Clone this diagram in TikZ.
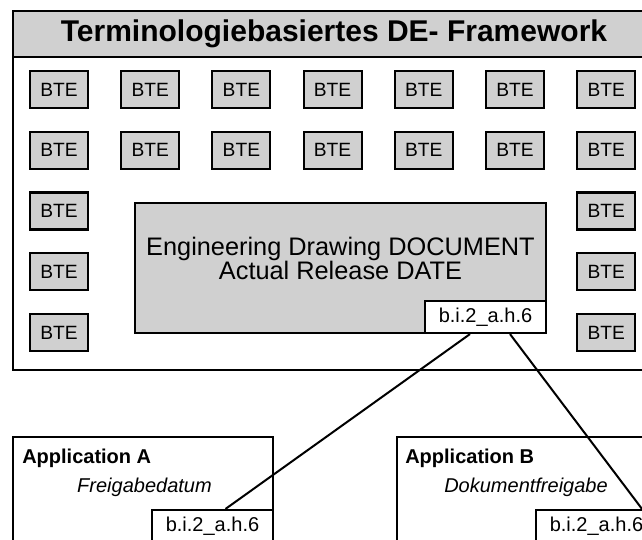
\documentclass[tikz,border=0pt]{standalone}
\usepackage{fontspec}
\setmainfont{Liberation Sans}
\usetikzlibrary{calc}

\definecolor{boxgray}{HTML}{D0D0D0}

\tikzset{
  box/.style={draw, rectangle, line width=1.6pt, inner sep=0pt},
  btebox/.style={box, fill=boxgray, minimum width=43.5pt, minimum height=27.75pt,
    font=\fontsize{14.4}{16}\selectfont},
  portbox/.style={box, fill=white, minimum width=90.75pt, minimum height=24pt,
    font=\fontsize{15}{17}\selectfont},
  appname/.style={anchor=base west, inner sep=0pt, font=\bfseries\fontsize{15}{17}\selectfont},
  appattr/.style={anchor=base, inner sep=0pt, font=\itshape\fontsize{15}{17}\selectfont},
  link/.style={line width=1.5pt},
}

\begin{document}
\begin{tikzpicture}[x=0.75pt,y=0.75pt]
    % Page size (the right edge of the drawing is cut off)
    \useasboundingbox (0,0) rectangle (642,539);
    \clip (0,0) rectangle (642,539);

    % Grid of the BTE boxes
    \def\dx{91.2}
    \def\dy{60.75}

    % ---- Framework (top) ----
    \node[box, minimum width=481.5pt, minimum height=269.25pt] (frame) at (334,348.5) {};
    \node[box, fill=boxgray, minimum width=481.5pt, minimum height=34.5pt,
      font=\bfseries\fontsize{22.5}{25}\selectfont] (title) at (334,505)
      {Terminologiebasiertes DE- Framework};

    % BTE boxes: two full rows, then the left and right columns
    \foreach \i in {0,...,6}
      \foreach \j in {0,1}
        \node[btebox] (bte-\i-\j) at ({59+\dx*\i},{449.5-\dy*\j}) {BTE};
    \foreach \i in {0,6}
      \foreach \j in {2,3,4}
        \node[btebox] (bte-\i-\j) at ({59+\dx*\i},{449.5-\dy*\j}) {BTE};

    % Document in the middle
    \node[box, fill=boxgray, minimum width=308.25pt, minimum height=97.5pt] (doc) at (340.5,271) {};
    \node[align=center, inner sep=0pt, font=\fontsize{19}{18}\selectfont] (doctext) at (340.5,281)
      {Engineering Drawing DOCUMENT\\Actual Release DATE};
    \node[portbox, anchor=south east] (docport) at (doc.south east) {b.i.2\_a.h.6};

    % ---- Applications (bottom) ----
    \node[box, minimum width=195pt, minimum height=105pt] (appA) at (143,32) {};
    \node[appname] (appAname) at (22,76) {Application A};
    \node[appattr] (appAattr) at (144.5,47) {Freigabedatum};
    \node[portbox, anchor=north east] (portA) at ($(appA.north east)+(0,-73)$) {b.i.2\_a.h.6};

    \node[box, minimum width=195pt, minimum height=105pt] (appB) at (527,32) {};
    \node[appname] (appBname) at (405,76) {Application B};
    \node[appattr] (appBattr) at (526,47) {Dokumentfreigabe};
    \node[portbox, anchor=north east] (portB) at ($(appB.north east)+(0,-73)$) {b.i.2\_a.h.6};

    % Links from the document to the applications
    \draw[link] ($(docport.south)+(-15.5,0)$) -- ($(portA.north)+(13,0)$);
    \draw[link] ($(docport.south)+(24.5,0)$) -- ($(portB.north)+(45.5,0)$);
\end{tikzpicture}
\end{document}
